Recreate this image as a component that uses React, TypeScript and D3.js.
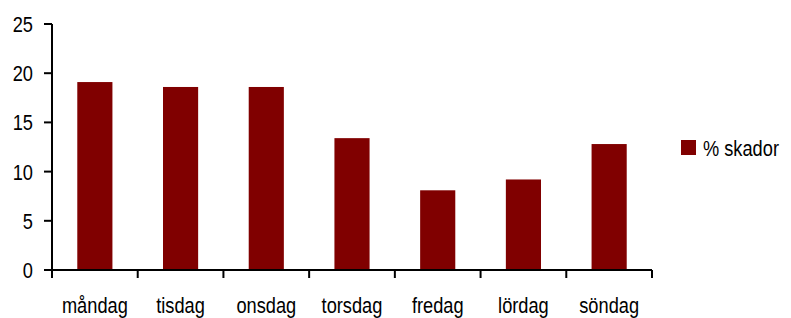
import React, { useEffect, useRef } from 'react';
import * as d3 from 'd3';

const days = ['måndag', 'tisdag', 'onsdag', 'torsdag', 'fredag', 'lördag', 'söndag'];
const skador = [19.1, 18.6, 18.6, 13.4, 8.1, 9.2, 12.8];
const yTicks = [0, 5, 10, 15, 20, 25];
const seriesName = '% skador';

const App = () => {
  const svgRef = useRef<SVGSVGElement>(null);

  useEffect(() => {
    if (!svgRef.current) return;
    const svg = d3.select(svgRef.current);
    svg.selectAll('*').remove();

    const width = 791;
    const height = 318;
    const left = 52;
    const right = 652;
    const top = 24;
    const bottom = 270;
    const font = '"Liberation Sans", Arial, sans-serif';
    const squeeze = 0.81; // narrow look of the original condensed face
    const barColor = '#800000';

    svg.attr('width', width).attr('height', height);

    const x = d3.scaleBand().domain(days).range([left, right]).paddingInner(0.59).paddingOuter(0.295);
    const xBand = d3.scaleBand().domain(days).range([left, right]);
    const y = d3.scaleLinear().domain([0, 25]).range([bottom, top]);

    // helper for condensed text
    const label = (g: any, tx: number, ty: number, txt: string, anchor: string) =>
      g.append('text')
        .attr('transform', `translate(${tx},${ty}) scale(${squeeze},1)`)
        .attr('text-anchor', anchor)
        .attr('font-family', font)
        .attr('font-size', '22.5px')
        .attr('fill', '#000')
        .text(txt);

    // bars
    svg.append('g')
      .selectAll('rect')
      .data(days)
      .enter()
      .append('rect')
      .attr('x', d => x(d)!)
      .attr('y', (d, i) => y(skador[i]))
      .attr('width', x.bandwidth())
      .attr('height', (d, i) => bottom - y(skador[i]))
      .attr('fill', barColor);

    // y axis
    const yAxis = svg.append('g');
    yAxis.append('line')
      .attr('x1', left).attr('x2', left)
      .attr('y1', top).attr('y2', bottom)
      .attr('stroke', '#000').attr('stroke-width', 2);
    yTicks.forEach(t => {
      yAxis.append('line')
        .attr('x1', left - 8).attr('x2', left)
        .attr('y1', y(t)).attr('y2', y(t))
        .attr('stroke', '#000').attr('stroke-width', 2);
      label(yAxis, 33, y(t) + 8, String(t), 'end');
    });

    // x axis
    const xAxis = svg.append('g');
    xAxis.append('line')
      .attr('x1', left).attr('x2', right)
      .attr('y1', bottom).attr('y2', bottom)
      .attr('stroke', '#000').attr('stroke-width', 2);
    const edges = days.map(d => xBand(d)!).concat([right]);
    edges.forEach(e => {
      xAxis.append('line')
        .attr('x1', e).attr('x2', e)
        .attr('y1', bottom).attr('y2', bottom + 8)
        .attr('stroke', '#000').attr('stroke-width', 2);
    });
    days.forEach(d => {
      label(xAxis, xBand(d)! + xBand.bandwidth() / 2, 313, d, 'middle');
    });

    // legend
    const legend = svg.append('g');
    legend.append('rect')
      .attr('x', 681).attr('y', 140)
      .attr('width', 15).attr('height', 15)
      .attr('fill', barColor);
    label(legend, 703, 155.5, seriesName, 'start');
  }, []);

  return (
    <div style={{ position: 'absolute', left: 0, top: 0, width: 791, height: 318, background: '#fff' }}>
      <svg ref={svgRef} width={791} height={318}></svg>
    </div>
  );
};

export default App;
